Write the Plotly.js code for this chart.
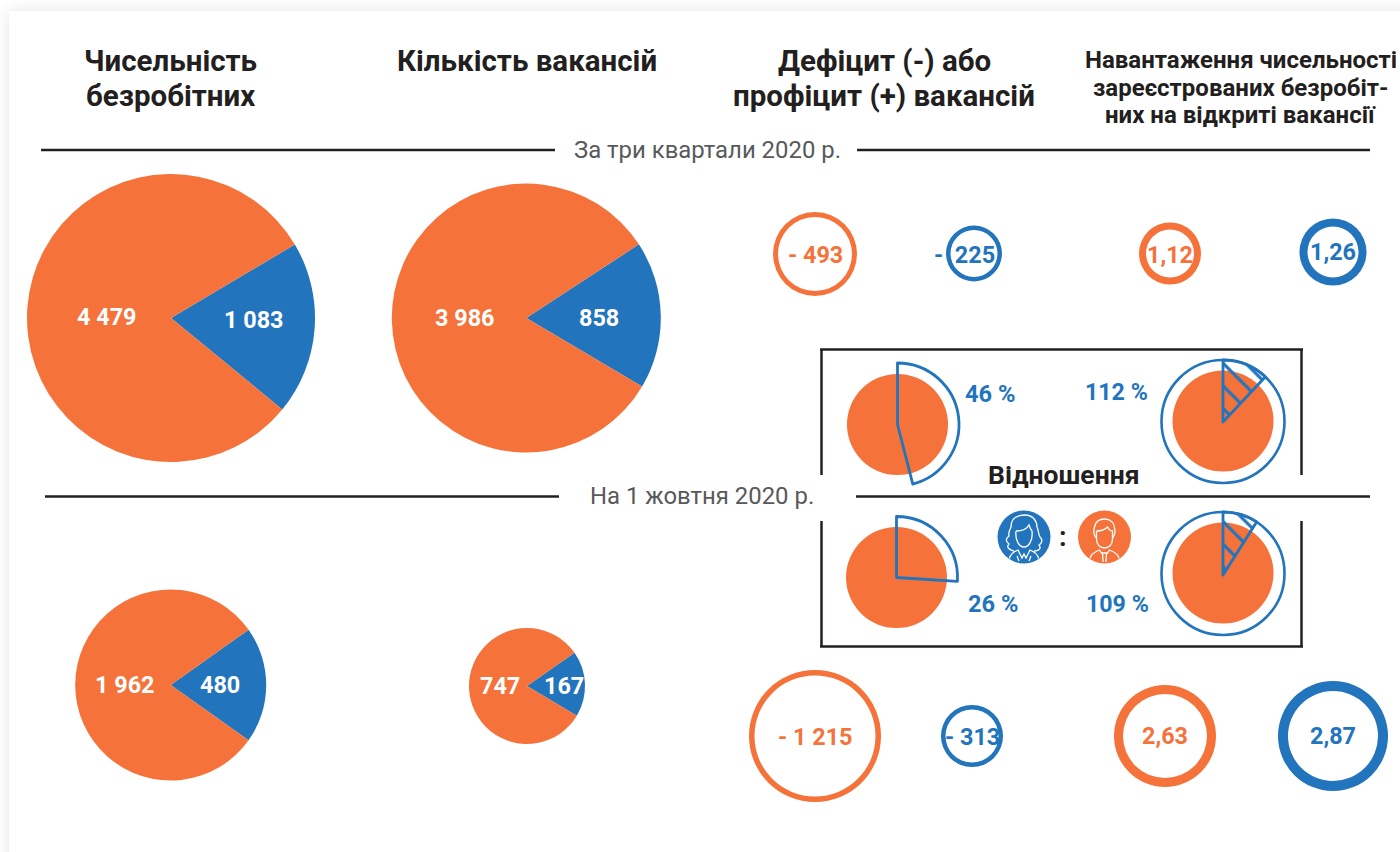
<!DOCTYPE html>
<html lang="uk">
<head>
<meta charset="utf-8">
<title>Безробітні та вакансії</title>
<script src="https://cdn.plot.ly/plotly-3.0.1.min.js"></script>
<style>
html,body{margin:0;padding:0;background:#fff;overflow:hidden;width:1400px;height:852px}
#card{position:absolute;left:9px;top:11px;width:1500px;height:950px;background:#fff;box-shadow:0 0 14px rgba(0,0,0,.11)}
#chart{position:absolute;left:0;top:0;width:1400px;height:852px}
</style>
</head>
<body>
<div id="card"></div>
<div id="chart"></div>
<script>
// ---------- data ----------
const columnTitles = [['Чисельність', 'безробітних'], ['Кількість вакансій'], ['Дефіцит (-) або', 'профіцит (+) вакансій'], ['Навантаження чисельності', 'зареєстрованих безробіт-', 'них на відкриті вакансії']];
const periodTitles = ['За три квартали 2020 р.', 'На 1 жовтня 2020 р.'];
const unemployedOrange = [4479, 1962];
const unemployedBlue = [1083, 480];
const vacanciesOrange = [3986, 747];
const vacanciesBlue = [858, 167];
const deficitOrange = ['- 493', '- 1 215'];
const deficitOrangeValues = [493, 1215];
const deficitBlue = ['-\u00a0\u00a0225', '- 313'];
const deficitBlueValues = [225, 313];
const loadOrange = ['1,12', '2,63'];
const loadOrangeValues = [1.12, 2.63];
const loadBlue = ['1,26', '2,87'];
const loadBlueValues = [1.26, 2.87];
const vacancyRatio = [46, 26];
const unemployedRatio = [112, 109];
const ratioTitle = 'Відношення';

// ---------- style ----------
const ORANGE = '#F5733A', BLUE = '#2274BC', DARK = '#231F20', GREY = '#58595B', CLEAR = 'rgba(255,255,255,0)';
const W = 1400, H = 852, FONT = 'Roboto, sans-serif';
const fx = x => x / W, fy = y => 1 - y / H;
const domainOf = (cx, cy, r) => ({x: [fx(cx - r), fx(cx + r)], y: [fy(cy + r), fy(cy - r)]});
const pieBase = {type: 'pie', sort: false, direction: 'clockwise', textinfo: 'none', hoverinfo: 'skip', showlegend: false};

const fmt = v => String(v).replace(/\B(?=(\d{3})+$)/g, ' ');
const traces = [];
const annotations = [];
const note = (text, x, y, size, color, weight) => annotations.push({
  text, x: fx(x), y: fy(y), xref: 'paper', yref: 'paper', showarrow: false,
  xanchor: 'center', yanchor: 'middle', align: 'center',
  font: {family: FONT, size, color, weight: weight === undefined ? 700 : weight}
});

// split pies
function splitPie(orange, blue, cx, cy, r, rotation) {
  traces.push({...pieBase, values: [blue, orange], rotation, domain: domainOf(cx, cy, r),
    marker: {colors: [BLUE, ORANGE], line: {width: 0}}});
}
const splitGeom = [
  [unemployedOrange[0], unemployedBlue[0], 171, 318, 144, 59.3, 107, 317, 254, 320],
  [vacanciesOrange[0], vacanciesBlue[0], 526.3, 318, 134.5, 56.8, 465, 318, 599, 318],
  [unemployedOrange[1], unemployedBlue[1], 170.7, 685, 95.5, 54.6, 125, 685, 220, 685],
  [vacanciesOrange[1], vacanciesBlue[1], 527, 686, 58, 55, 500, 686, 564, 686]
];
splitGeom.forEach(g => {
  splitPie(g[0], g[1], g[2], g[3], g[4], g[5]);
  note(fmt(g[0]), g[6], g[7], 23.4, '#fff');
  note(fmt(g[1]), g[8], g[9], 23.4, '#fff');
});

// rings
function ring(value, label, color, cx, cy, r, stroke, lx, ly) {
  traces.push({...pieBase, values: [value], hole: (r - stroke) / r, domain: domainOf(cx, cy, r),
    marker: {colors: [color], line: {width: 0}}});
  note(label, lx, ly, 23.4, color);
}
ring(deficitOrangeValues[0], deficitOrange[0], ORANGE, 815, 254, 42, 5, 815, 255);
ring(deficitBlueValues[0], deficitBlue[0], BLUE, 974, 253.5, 28, 4.5, 964, 255);
ring(loadOrangeValues[0], loadOrange[0], ORANGE, 1170, 253.5, 31, 7, 1170, 255);
ring(loadBlueValues[0], loadBlue[0], BLUE, 1333, 252, 33.5, 8, 1333, 252);
ring(deficitOrangeValues[1], deficitOrange[1], ORANGE, 815, 736, 66, 5.5, 815, 737);
ring(deficitBlueValues[1], deficitBlue[1], BLUE, 972, 736, 31, 4.5, 973, 737);
ring(loadOrangeValues[1], loadOrange[1], ORANGE, 1165, 736, 51, 9, 1165, 736);
ring(loadBlueValues[1], loadBlue[1], BLUE, 1333, 736, 55, 10, 1333, 736);

// ratio pies
function basePie(cx, cy) {
  traces.push({...pieBase, values: [100], domain: domainOf(cx, cy, 50.5), marker: {colors: [ORANGE], line: {width: 0}}});
}
function partWedge(pct, cx, cy, r) {
  basePie(cx, cy);
  traces.push({...pieBase, values: [pct, 100 - pct], rotation: 0, domain: domainOf(cx, cy, r),
    marker: {colors: [CLEAR, CLEAR], line: {color: [BLUE, CLEAR], width: [2.8, 0]}}});
}
function overWedge(pct, cx, cy, tipY, r) {
  basePie(cx, cy);
  traces.push({...pieBase, values: [100], domain: domainOf(cx, cy + .5, r),
    marker: {colors: [CLEAR], line: {color: BLUE, width: 2.6}}});
  traces.push({...pieBase, values: [pct - 100, 200 - pct], rotation: 0, domain: domainOf(cx, tipY, r + (tipY - cy) - 0.5),
    marker: {colors: [CLEAR, CLEAR], line: {color: [BLUE, CLEAR], width: [2.8, 0]},
      pattern: {shape: ['\\', ''], fgcolor: BLUE, fgopacity: 1, bgcolor: CLEAR, size: 16, solidity: 0.2, fillmode: 'overlay'}}});
}
partWedge(vacancyRatio[0], 897.5, 424.5, 61.5);
partWedge(vacancyRatio[1], 896.5, 577.5, 61);
overWedge(unemployedRatio[0], 1223, 421, 422, 61.5);
overWedge(unemployedRatio[1], 1223, 573, 575, 61.5);
note(vacancyRatio[0] + ' %', 990, 394, 23.6, BLUE);
note(unemployedRatio[0] + ' %', 1116, 392, 23.2, BLUE);
note(vacancyRatio[1] + ' %', 993, 604, 23.6, BLUE);
note(unemployedRatio[1] + ' %', 1117, 604, 23.2, BLUE);
note(ratioTitle, 1064, 474, 26.5, DARK, 700);
note(':', 1063, 537, 27, DARK, 700);

// titles
const titleRows = [[170.5, [61, 96], 29.5], [527, [61], 29.5], [884, [61, 96], 29.5], [1240.5, [60, 88, 115], 24]];
columnTitles.forEach((rows, i) => rows.forEach((t, j) =>
  note(t, titleRows[i][0], titleRows[i][1][j], titleRows[i][2], DARK)));
note(periodTitles[0], 707.5, 150, 23.9, GREY, 400);
note(periodTitles[1], 702, 496, 23.9, GREY, 400);

// ---------- frame, rules and icons ----------
const line = (x0, y0, x1, y1, width) => ({type: 'line', xref: 'paper', yref: 'paper',
  x0: fx(x0), y0: fy(y0), x1: fx(x1), y1: fy(y1), line: {color: DARK, width}});
const shapes = [
  line(41, 150, 555, 150, 2.5), line(857, 150, 1370, 150, 2.5),
  line(45, 496.5, 559, 496.5, 2.5), line(856, 496.5, 1370, 496.5, 2.5),
  line(820, 349.5, 1303, 349.5, 2.5), line(821.5, 349, 821.5, 475, 2.5), line(1301.5, 349, 1301.5, 475, 2.5),
  line(820, 646.5, 1303, 646.5, 2.5), line(821.5, 521, 821.5, 647, 2.5), line(1301.5, 521, 1301.5, 647, 2.5)
];
const toPaper = (d, cx, cy) => d.replace(/(-?[\d.]+),(-?[\d.]+)/g, (m, a, b) => fx(+a + cx) + ',' + fy(+b + cy));
const disc = (cx, cy, color) => ({type: 'circle', xref: 'paper', yref: 'paper', x0: fx(cx - 26.5), x1: fx(cx + 26.5), y0: fy(cy + 26.5), y1: fy(cy - 26.5), fillcolor: color, line: {width: 0}});
const icon = (d, cx, cy) => ({type: 'path', xref: 'paper', yref: 'paper', path: toPaper(d, cx, cy), line: {color: '#fff', width: 1.3}});
const womanIcon = [
  'M-10,14 C-15,13 -18,10 -15,7 C-19,4 -18,1 -15,-1 C-16,-4 -15,-6 -13,-10 C-13,-19 -6,-22 1,-22 C9,-22 13,-16 13,-10 C15,-6 14,-3 16,0 C19,3 18,6 15,8 C18,12 14,14 10,14',
  'M-8,-6 C-9,3 -5,10 0,10 C5,10 9,3 8,-6 C7,-7 6,-9 5,-12 C3,-8 -2,-6 -8,-6',
  'M-14.5,21.5 C-14,17 -11,15 -6,13 L-2,21 L0,17 L2,21 L6,13 C11,15 14,17 14.5,21.5',
  'M-7,19 L-5,24 M7,19 L5,24'
];
const manIcon = [
  'M-8,1 C-12,-3 -11,-7 -10,-10 C-9,-15 -5,-18 0,-18 C6,-18 10,-14 10,-9 C11,-6 11,-3 8,1',
  'M-8,-6 L-8,2 C-8,8 -4,11 0,11 C4,11 8,8 8,2 L8,-6 C5,-6 4,-8 3,-10 C0,-7 -4,-6 -8,-6',
  'M-14.5,21.5 C-14,17 -10,15 -5,13 L-3,16 L3,16 L5,13 C10,15 14,17 14.5,21.5',
  'M-2,16 L-1.5,25 M2,16 L1.5,25'
];
shapes.push(disc(1024, 537, BLUE), disc(1104.5, 537, ORANGE));
womanIcon.forEach(d => shapes.push(icon(d, 1024, 537)));
manIcon.forEach(d => shapes.push(icon(d, 1104.5, 537)));

Plotly.newPlot('chart', traces, {
  width: W, height: H, autosize: false,
  margin: {l: 0, r: 0, t: 0, b: 0, pad: 0},
  paper_bgcolor: 'rgba(0,0,0,0)', plot_bgcolor: 'rgba(0,0,0,0)',
  showlegend: false, annotations, shapes
}, {displayModeBar: false, staticPlot: true});
</script>
</body>
</html>
